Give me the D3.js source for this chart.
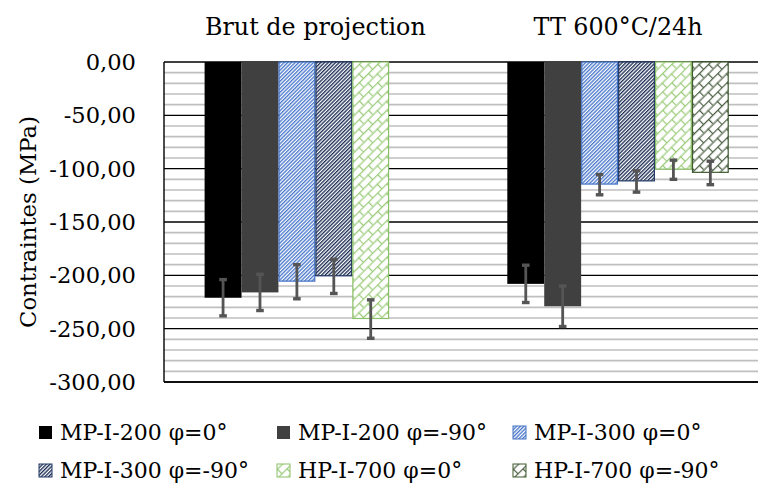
<!DOCTYPE html>
<html>
<head>
<meta charset="utf-8">
<script src="https://cdn.jsdelivr.net/npm/d3@7"></script>
<style>
  html, body { margin: 0; padding: 0; background: #fff; }
  svg { display: block; }
  text { font-family: "DejaVu Serif", "Liberation Serif", serif; fill: #000; }
</style>
</head>
<body>
<svg id="chart" width="758" height="484"></svg>
<script>
// ---------------- DATA ----------------
const categories = ["Brut de projection", "TT 600°C/24h"];
const seriesNames = ["MP-I-200 φ=0°", "MP-I-200 φ=-90°", "MP-I-300 φ=0°",
                     "MP-I-300 φ=-90°", "HP-I-700 φ=0°", "HP-I-700 φ=-90°"];
// values per series: [Brut de projection, TT 600°C/24h]
const mpI200_0   = [-221, -208];
const mpI200_90  = [-216, -229];
const mpI300_0   = [-206, -115];
const mpI300_90  = [-201, -112];
const hpI700_0   = [-241, -101];
const hpI700_90  = [null, -104];
// error (±) per series
const err_mpI200_0  = [17, 17.5];
const err_mpI200_90 = [17, 19];
const err_mpI300_0  = [16, 9.5];
const err_mpI300_90 = [16, 10];
const err_hpI700_0  = [18, 9];
const err_hpI700_90 = [null, 11];
const yTicks = [0, -50, -100, -150, -200, -250, -300];
const yLabel = "Contraintes (MPa)";

const seriesValues = [mpI200_0, mpI200_90, mpI300_0, mpI300_90, hpI700_0, hpI700_90];
const seriesErrors = [err_mpI200_0, err_mpI200_90, err_mpI300_0, err_mpI300_90, err_hpI700_0, err_hpI700_90];

// ---------------- STYLE ----------------
const fills = ["#000000", "#404040", "url(#pBlue)", "url(#pNavy)", "url(#pGreenL)", "url(#pGreenD)"];
const strokes = [null, null, "#4472C4", "#203864", "#8CC068", "#3E5A2E"];

const svg = d3.select("#chart");
const plot = { left: 164, right: 769.4, top: 62, bottom: 382 };

// ---------------- PATTERNS ----------------
const defs = svg.append("defs");
function stripes(id, color) {
  const p = defs.append("pattern").attr("id", id)
    .attr("patternUnits", "userSpaceOnUse").attr("width", 2.6).attr("height", 10)
    .attr("patternTransform", "rotate(45)");
  p.append("rect").attr("width", 2.6).attr("height", 10).attr("fill", "#fff");
  p.append("rect").attr("width", 1.35).attr("height", 10).attr("fill", color);
}
stripes("pBlue", "#4A78CC");
stripes("pNavy", "#1F2F55");
function bricks(id, color) {
  const s = 13, h = 6.5;
  const p = defs.append("pattern").attr("id", id)
    .attr("patternUnits", "userSpaceOnUse").attr("width", s).attr("height", s)
    .attr("patternTransform", "rotate(-45)");
  p.append("rect").attr("width", s).attr("height", s).attr("fill", "#fff");
  const g = p.append("g").attr("stroke", color).attr("stroke-width", 1.2).attr("fill", "none");
  g.append("line").attr("x1", 0).attr("x2", s).attr("y1", 0.6).attr("y2", 0.6);
  g.append("line").attr("x1", 0).attr("x2", s).attr("y1", h + 0.6).attr("y2", h + 0.6);
  g.append("line").attr("x1", 0.6).attr("x2", 0.6).attr("y1", 0).attr("y2", h);
  g.append("line").attr("x1", s / 2).attr("x2", s / 2).attr("y1", h).attr("y2", s);
}
bricks("pGreenL", "#9ACB78");
bricks("pGreenD", "#4A5E42");

// ---------------- SCALES ----------------
const y = d3.scaleLinear().domain([-300, 0]).range([plot.bottom, plot.top]);
const x0 = d3.scaleBand().domain(categories).range([plot.left, plot.right]).padding(0);
const x1 = d3.scaleBand().domain(seriesNames).range([0, x0.bandwidth()])
  .paddingInner(0).paddingOuter(1.1);

// ---------------- GRID ----------------
const minorTicks = d3.range(-300, 1, 10).filter(v => v % 50 !== 0);
svg.append("g").selectAll("line").data(minorTicks).join("line")
  .attr("x1", plot.left).attr("x2", 758)
  .attr("y1", d => y(d)).attr("y2", d => y(d))
  .attr("stroke", "#BFBFBF").attr("stroke-width", 1.6);
svg.append("g").selectAll("line").data(yTicks).join("line")
  .attr("x1", plot.left).attr("x2", 758)
  .attr("y1", d => y(d)).attr("y2", d => y(d))
  .attr("stroke", "#000").attr("stroke-width", 1.4);

// ---------------- BARS ----------------
const barData = [];
seriesNames.forEach((s, i) => {
  categories.forEach((c, j) => {
    const v = seriesValues[i][j];
    if (v !== null && v !== undefined) barData.push({ s, c, v, e: seriesErrors[i][j], i });
  });
});
const bars = svg.append("g");
bars.selectAll("rect").data(barData).join("rect")
  .attr("x", d => x0(d.c) + x1(d.s) + (strokes[d.i] ? 0.6 : 0))
  .attr("width", d => x1.bandwidth() - (strokes[d.i] ? 1.2 : 0))
  .attr("y", d => y(0))
  .attr("height", d => y(d.v) - y(0) - (strokes[d.i] ? 0.6 : 0))
  .attr("fill", d => fills[d.i])
  .attr("stroke", d => strokes[d.i] || "none")
  .attr("stroke-width", 1.2);

// ---------------- ERROR BARS ----------------
const eb = svg.append("g").attr("stroke", "#555555");
const ebg = eb.selectAll("g").data(barData).join("g");
ebg.append("line")
  .attr("x1", d => x0(d.c) + x1(d.s) + x1.bandwidth() / 2)
  .attr("x2", d => x0(d.c) + x1(d.s) + x1.bandwidth() / 2)
  .attr("y1", d => y(d.v + d.e)).attr("y2", d => y(d.v - d.e))
  .attr("stroke-width", 2.8);
["top", "bot"].forEach(k => {
  ebg.append("line")
    .attr("x1", d => x0(d.c) + x1(d.s) + x1.bandwidth() / 2 - 3.8)
    .attr("x2", d => x0(d.c) + x1(d.s) + x1.bandwidth() / 2 + 3.8)
    .attr("y1", d => y(k === "top" ? d.v + d.e : d.v - d.e))
    .attr("y2", d => y(k === "top" ? d.v + d.e : d.v - d.e))
    .attr("stroke-width", 3.4);
});

// ---------------- AXIS ----------------
svg.append("line").attr("x1", plot.left).attr("x2", plot.left)
  .attr("y1", plot.top).attr("y2", plot.bottom).attr("stroke", "#000").attr("stroke-width", 1.4);
svg.append("line").attr("x1", plot.left).attr("x2", 758)
  .attr("y1", plot.bottom).attr("y2", plot.bottom).attr("stroke", "#000").attr("stroke-width", 1.6);

const fmt = v => d3.format(".2f")(v).replace("−", "-").replace(".", ",");
svg.append("g").selectAll("text").data(yTicks).join("text")
  .attr("x", 136).attr("y", d => y(d)).attr("dy", "0.36em")
  .attr("text-anchor", "end").attr("font-size", 22.6)
  .text(d => fmt(d));

svg.append("text")
  .attr("transform", `translate(36,${(plot.top + plot.bottom) / 2}) rotate(-90)`)
  .attr("text-anchor", "middle").attr("font-size", 22.8)
  .text(yLabel);

// ---------------- CATEGORY TITLES ----------------
svg.append("g").selectAll("text").data(categories).join("text")
  .attr("x", d => x0(d) + x0.bandwidth() / 2)
  .attr("y", 35).attr("text-anchor", "middle").attr("font-size", 23.8)
  .text(d => d);

// ---------------- LEGEND ----------------
const legCols = [39, 277, 513];
const legRows = [440, 478];
const leg = svg.append("g").selectAll("g").data(seriesNames).join("g")
  .attr("transform", (d, i) => `translate(${legCols[i % 3]},${legRows[Math.floor(i / 3)]})`);
leg.append("rect").attr("x", 0).attr("y", -14).attr("width", 13).attr("height", 13)
  .attr("fill", (d, i) => fills[i])
  .attr("stroke", (d, i) => strokes[i] || "none").attr("stroke-width", 1);
leg.append("text").attr("x", 21).attr("y", 0).attr("font-size", 22).text(d => d);
</script>
</body>
</html>
